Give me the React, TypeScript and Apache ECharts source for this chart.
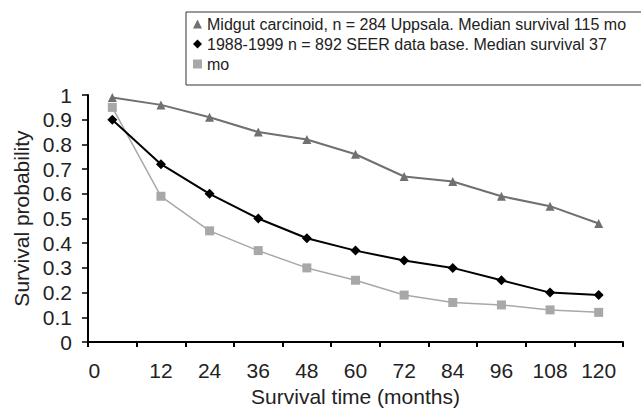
import React, { useEffect, useRef } from "react";
import * as echarts from "echarts";

const months = ["0", "12", "24", "36", "48", "60", "72", "84", "96", "108", "120"];
const seriesNames = [
  "Midgut carcinoid, n = 284 Uppsala. Median survival 115 mo",
  "1988-1999 n = 892 SEER data base. Median survival 37",
  "mo",
];
const uppsala = [0.99, 0.96, 0.91, 0.85, 0.82, 0.76, 0.67, 0.65, 0.59, 0.55, 0.48];
const seer = [0.9, 0.72, 0.6, 0.5, 0.42, 0.37, 0.33, 0.3, 0.25, 0.2, 0.19];
const third = [0.95, 0.59, 0.45, 0.37, 0.3, 0.25, 0.19, 0.16, 0.15, 0.13, 0.12];

const FONT = "Liberation Sans, Arial, Helvetica, sans-serif";

export default function App() {
  const ref = useRef<HTMLDivElement>(null);
  useEffect(() => {
    if (!ref.current) return;
    const chart = echarts.init(ref.current, undefined, { renderer: "svg" });
    const colors = ["#707070", "#000000", "#a8a8a8"];
    const symbols = ["triangle", "diamond", "rect"];
    const datas = [uppsala, seer, third];
    chart.setOption({
      animation: false,
      backgroundColor: "#ffffff",
      textStyle: { fontFamily: FONT },
      grid: { left: 88, right: 18, top: 95, bottom: 67 },
      legend: {
        orient: "vertical",
        left: 186,
        top: 12,
        width: 600,
        padding: [4, 30, 13, 7],
        borderColor: "#333",
        borderWidth: 1,
        itemWidth: 9,
        itemHeight: 9,
        itemGap: 4,
        textStyle: { fontSize: 16, color: "#222", lineHeight: 16, fontFamily: FONT },
        data: seriesNames.map((n, i) => ({ name: n, icon: symbols[i] })),
      },
      xAxis: {
        type: "category",
        data: months,
        boundaryGap: true,
        name: "Survival time (months)",
        nameLocation: "middle",
        nameGap: 44,
        nameTextStyle: { fontSize: 21, color: "#222", fontFamily: FONT },
        axisLine: { lineStyle: { color: "#000", width: 2 } },
        axisTick: { show: true, alignWithLabel: false, length: 5, lineStyle: { color: "#000", width: 2 } },
        axisLabel: {
          fontSize: 21,
          color: "#222",
          margin: 18,
          interval: 0,
          formatter: (v: string, i: number) => (i === 0 ? "{z|" + v + "}" : v),
          rich: { z: { fontSize: 21, color: "#222", padding: [0, 36, 0, 0], fontFamily: FONT } },
        },
        splitLine: { show: false },
      },
      yAxis: {
        type: "value",
        min: 0,
        max: 1,
        interval: 0.1,
        name: "Survival probability",
        nameLocation: "middle",
        nameGap: 55,
        nameTextStyle: { fontSize: 21, color: "#222", fontFamily: FONT },
        axisLine: { show: true, lineStyle: { color: "#000", width: 2 } },
        axisTick: { show: true, length: 6, lineStyle: { color: "#000", width: 1.5 } },
        axisLabel: {
          fontSize: 21,
          color: "#222",
          margin: 16,
          formatter: (v: number) => String(Math.round(v * 10) / 10),
        },
        splitLine: { show: false },
      },
      series: datas.map((d, i) => ({
        name: seriesNames[i],
        type: "line",
        data: d,
        symbol: symbols[i],
        symbolSize: i === 1 ? 10 : 9,
        showSymbol: true,
        color: colors[i],
        lineStyle: { color: colors[i], width: i === 2 ? 1.5 : 2 },
        itemStyle: { color: colors[i] },
        z: 3 - i,
      })),
    });
    return () => chart.dispose();
  }, []);
  return (
    <div
      ref={ref}
      style={{ position: "fixed", left: 0, top: 0, width: 641, height: 412, background: "#fff" }}
    />
  );
}
